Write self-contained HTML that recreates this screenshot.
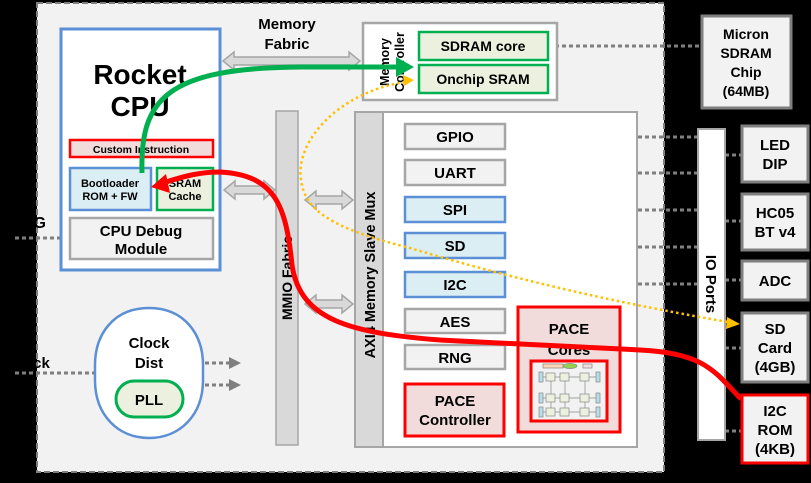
<!DOCTYPE html>
<html><head><meta charset="utf-8"><style>
html,body{margin:0;padding:0;background:#000;}
svg{display:block;}
text{font-family:"Liberation Sans",Arial,sans-serif;font-weight:bold;fill:#000;}
</style></head><body>
<svg width="811" height="483" viewBox="0 0 811 483" xmlns="http://www.w3.org/2000/svg">
<rect width="811" height="483" fill="#000"/>
<rect x="37" y="3" width="627" height="469" fill="#f2f2f2" stroke="#7f7f7f" stroke-width="2" stroke-dasharray="6,3"/>

<g stroke="#7f7f7f" stroke-width="3" stroke-dasharray="4,3" fill="none">
<line x1="15" y1="238" x2="68" y2="238"/>
<line x1="15" y1="373" x2="94" y2="373"/>
<line x1="548" y1="46" x2="700" y2="46"/>
<line x1="505" y1="137" x2="697" y2="137"/>
<line x1="505" y1="173" x2="697" y2="173"/>
<line x1="505" y1="210" x2="697" y2="210"/>
<line x1="505" y1="247" x2="697" y2="247"/>
<line x1="505" y1="284" x2="697" y2="284"/>
<line x1="725" y1="155" x2="741" y2="155"/>
<line x1="725" y1="221" x2="741" y2="221"/>
<line x1="725" y1="280" x2="741" y2="280"/>
<line x1="725" y1="348" x2="741" y2="348"/>
<line x1="725" y1="431" x2="741" y2="431"/>
<line x1="505" y1="406" x2="517" y2="406"/>
<line x1="205" y1="363" x2="230" y2="363"/>
<line x1="205" y1="385" x2="230" y2="385"/>
</g>
<path d="M229,357 L241,363 L229,369z M229,379 L241,385 L229,391z" fill="#7f7f7f"/>

<text x="22" y="228" font-size="16">AG</text>
<text x="24" y="368" font-size="15">ock</text>

<rect x="61" y="29" width="159" height="241" fill="#fff" stroke="#5b8fd6" stroke-width="3"/>
<text x="140" y="84" font-size="28" text-anchor="middle">Rocket</text>
<text x="140" y="116" font-size="28" text-anchor="middle">CPU</text>
<rect x="70" y="140" width="143" height="17" fill="#f2dcdb" stroke="#ff0000" stroke-width="2.5"/>
<text x="141" y="153" font-size="10.5" text-anchor="middle">Custom Instruction</text>
<rect x="70" y="168" width="81" height="42" fill="#dbeef4" stroke="#5b8fd6" stroke-width="2.5"/>
<text x="110" y="187" font-size="11" text-anchor="middle">Bootloader</text>
<text x="110" y="200" font-size="11" text-anchor="middle">ROM + FW</text>
<rect x="157" y="168" width="56" height="42" fill="#ebf1de" stroke="#00b050" stroke-width="2.5"/>
<text x="185" y="187" font-size="11" text-anchor="middle">SRAM</text>
<text x="185" y="200" font-size="11" text-anchor="middle">Cache</text>
<rect x="70" y="218" width="143" height="41" fill="#f2f2f2" stroke="#a6a6a6" stroke-width="2.5"/>
<text x="141" y="236" font-size="15" text-anchor="middle">CPU Debug</text>
<text x="141" y="254" font-size="15" text-anchor="middle">Module</text>

<text x="287" y="29" font-size="15" text-anchor="middle">Memory</text>
<text x="287" y="49" font-size="15" text-anchor="middle">Fabric</text>
<g fill="#d9d9d9" stroke="#a6a6a6" stroke-width="1.5">
<path d="M223,61 L234,52 L234,57 L349,57 L349,52 L360,61 L349,70 L349,65 L234,65 L234,70z"/>
<path d="M224,190 L235,181 L235,186 L264,186 L264,181 L275,190 L264,199 L264,194 L235,194 L235,199z"/>
<path d="M305,200 L316,191 L316,196 L342,196 L342,191 L353,200 L342,209 L342,204 L316,204 L316,209z"/>
<path d="M305,304 L316,295 L316,300 L342,300 L342,295 L353,304 L342,313 L342,308 L316,308 L316,313z"/>
</g>

<rect x="363" y="23" width="194" height="77" fill="#fff" stroke="#a6a6a6" stroke-width="2.5"/>
<text transform="translate(389,62) rotate(-90)" font-size="12.5" text-anchor="middle">Memory</text>
<text transform="translate(404,62) rotate(-90)" font-size="12.5" text-anchor="middle">Controller</text>
<rect x="419" y="32" width="129" height="28" fill="#ebf1de" stroke="#00b050" stroke-width="2.5"/>
<text x="483" y="51" font-size="14" text-anchor="middle">SDRAM core</text>
<rect x="419" y="65" width="129" height="28" fill="#ebf1de" stroke="#00b050" stroke-width="2.5"/>
<text x="483" y="84" font-size="14" text-anchor="middle">Onchip SRAM</text>

<rect x="702" y="16" width="89" height="92" fill="#f2f2f2" stroke="#7f7f7f" stroke-width="3"/>
<text x="746" y="39" font-size="14" text-anchor="middle">Micron</text>
<text x="746" y="58" font-size="14" text-anchor="middle">SDRAM</text>
<text x="746" y="77" font-size="14" text-anchor="middle">Chip</text>
<text x="746" y="96" font-size="14" text-anchor="middle">(64MB)</text>

<rect x="276" y="111" width="22" height="334" fill="#d9d9d9" stroke="#a6a6a6" stroke-width="1.5"/>
<text transform="translate(292,278) rotate(-90)" font-size="14" text-anchor="middle">MMIO Fabric</text>

<rect x="355" y="112" width="282" height="335" fill="#fff" stroke="#a6a6a6" stroke-width="2"/>
<rect x="355" y="112" width="28" height="335" fill="#d9d9d9" stroke="#a6a6a6" stroke-width="2"/>
<text transform="translate(375,275) rotate(-90)" font-size="14.5" text-anchor="middle">AXI4 Memory Slave Mux</text>

<g stroke-width="2.5">
<rect x="405" y="124" width="100" height="25" fill="#f2f2f2" stroke="#a6a6a6"/>
<rect x="405" y="160" width="100" height="25" fill="#f2f2f2" stroke="#a6a6a6"/>
<rect x="405" y="197" width="100" height="25" fill="#dbeef4" stroke="#5b8fd6"/>
<rect x="405" y="233" width="100" height="25" fill="#dbeef4" stroke="#5b8fd6"/>
<rect x="405" y="272" width="100" height="25" fill="#dbeef4" stroke="#5b8fd6"/>
<rect x="405" y="309" width="100" height="24" fill="#f2f2f2" stroke="#a6a6a6"/>
<rect x="405" y="345" width="100" height="24" fill="#f2f2f2" stroke="#a6a6a6"/>
<rect x="405" y="384" width="99" height="52" fill="#f2dcdb" stroke="#ff0000" stroke-width="3"/>
<rect x="518" y="307" width="102" height="125" fill="#f2dcdb" stroke="#ff0000" stroke-width="3"/>
<rect x="531" y="361" width="76" height="60" fill="#f2f2f2" stroke="#ff0000" stroke-width="3"/>
</g>
<g font-size="15" text-anchor="middle">
<text x="455" y="142">GPIO</text>
<text x="455" y="178">UART</text>
<text x="455" y="215">SPI</text>
<text x="455" y="251">SD</text>
<text x="455" y="290">I2C</text>
<text x="455" y="327">AES</text>
<text x="455" y="363">RNG</text>
<text x="455" y="406">PACE</text>
<text x="455" y="425">Controller</text>
<text x="569" y="334">PACE</text>
<text x="569" y="355">Cores</text>
</g>
<g stroke="#888" stroke-width="0.7" fill="#ebf1de">
<line x1="540" y1="377" x2="600" y2="377"/><line x1="540" y1="398" x2="600" y2="398"/><line x1="540" y1="412" x2="600" y2="412"/>
<line x1="551" y1="375" x2="551" y2="414"/><line x1="565" y1="375" x2="565" y2="414"/><line x1="585" y1="375" x2="585" y2="414"/>
<rect x="546" y="373" width="9" height="8"/><rect x="560" y="373" width="9" height="8"/><rect x="580" y="373" width="9" height="8"/>
<rect x="546" y="394" width="9" height="8"/><rect x="560" y="394" width="9" height="8"/><rect x="580" y="394" width="9" height="8"/>
<rect x="546" y="408" width="9" height="8"/><rect x="560" y="408" width="9" height="8"/><rect x="580" y="408" width="9" height="8"/>
<rect x="539" y="372" width="4" height="10" fill="#b7dee8"/><rect x="596" y="372" width="4" height="10" fill="#b7dee8"/>
<rect x="539" y="393" width="4" height="10" fill="#b7dee8"/><rect x="596" y="393" width="4" height="10" fill="#b7dee8"/>
<rect x="539" y="407" width="4" height="10" fill="#b7dee8"/><rect x="596" y="407" width="4" height="10" fill="#b7dee8"/>
<rect x="543" y="364" width="20" height="4" fill="#fcd5b4"/><ellipse cx="570" cy="366" rx="7" ry="2.5" fill="#92d050"/><rect x="583" y="364" width="9" height="4" fill="#f2dcdb"/>
</g>

<rect x="698" y="129" width="27" height="311" fill="#fff" stroke="#a6a6a6" stroke-width="2"/>
<text transform="translate(706,284) rotate(90)" font-size="15" text-anchor="middle">IO Ports</text>

<g fill="#f2f2f2" stroke="#7f7f7f" stroke-width="3">
<rect x="742" y="126" width="66" height="56"/>
<rect x="742" y="194" width="66" height="56"/>
<rect x="742" y="261" width="66" height="39"/>
<rect x="742" y="313" width="66" height="69"/>
<rect x="742" y="395" width="66" height="68" stroke="#ff0000"/>
</g>
<g font-size="15" text-anchor="middle">
<text x="775" y="150">LED</text><text x="775" y="169">DIP</text>
<text x="775" y="218">HC05</text><text x="775" y="237">BT v4</text>
<text x="775" y="286">ADC</text>
<text x="775" y="334">SD</text><text x="775" y="353">Card</text><text x="775" y="372">(4GB)</text>
<text x="775" y="416">I2C</text><text x="775" y="435">ROM</text><text x="775" y="454">(4KB)</text>
</g>

<path d="M149,308 C185,308 203,335 203,365 L203,380 C203,415 180,438 149,438 C118,438 95,415 95,380 L95,365 C95,335 113,308 149,308z" fill="#fff" stroke="#5b8fd6" stroke-width="2.5"/>
<text x="149" y="348" font-size="15" text-anchor="middle">Clock</text>
<text x="149" y="368" font-size="15" text-anchor="middle">Dist</text>
<rect x="116" y="381" width="67" height="36" rx="18" fill="#ebf1de" stroke="#00b050" stroke-width="3"/>
<text x="149" y="405" font-size="15" text-anchor="middle">PLL</text>

<!-- yellow -->
<path d="M405,82 C340,92 295,140 301,180 C305,210 330,228 410,248 C500,275 600,300 728,322" fill="none" stroke="#ffc000" stroke-width="2.5" stroke-dasharray="2.5,3"/>
<path d="M414,80 L403,75 L404,86z" fill="#ffc000"/>
<path d="M740,324 L727,317 L726,329z" fill="#ffc000"/>
<!-- green -->
<path d="M142,173 C140,100 165,68 300,67 L398,67" fill="none" stroke="#00b050" stroke-width="5"/>
<path d="M414,67 L396,57 L396,77z" fill="#00b050"/>
<!-- red -->
<path d="M741,399 C715,372 705,353 640,350 L440,340 C350,333 300,320 292,265 C286,205 275,175 220,172 C200,172 185,176 166,182" fill="none" stroke="#ff0000" stroke-width="5"/>
<path d="M151,187 L166,174 L170,193z" fill="#ff0000"/>
</svg>
</body></html>
